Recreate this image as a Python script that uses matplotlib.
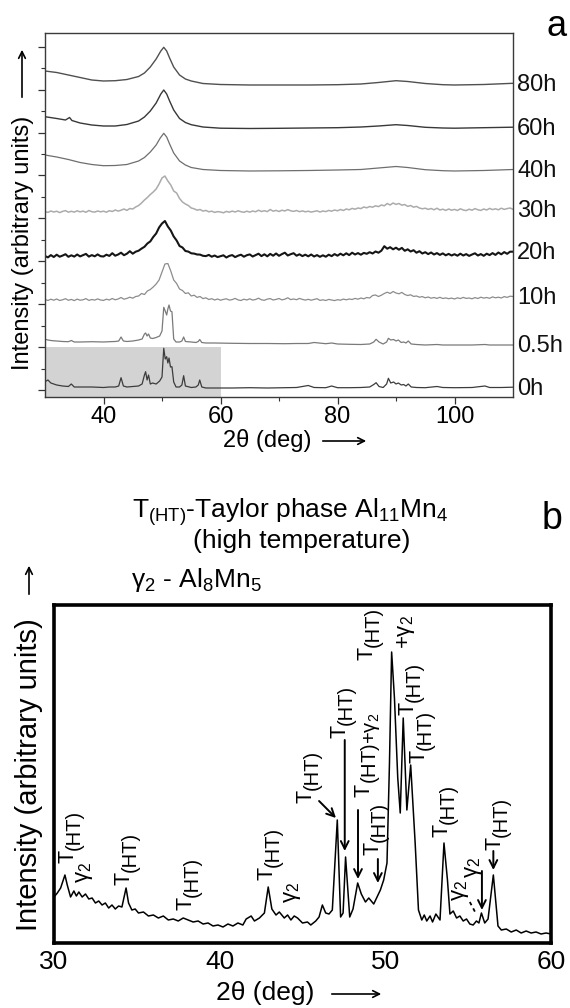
import numpy as np
import matplotlib
matplotlib.use("Agg")
import matplotlib.pyplot as plt
from matplotlib.patches import FancyArrowPatch

plt.rcParams['font.family'] = ['Liberation Sans', 'DejaVu Sans']
plt.rcParams['mathtext.fontset'] = 'custom'
plt.rcParams['mathtext.rm'] = 'Liberation Sans'
plt.rcParams['mathtext.it'] = 'Liberation Sans:italic'
plt.rcParams['mathtext.bf'] = 'Liberation Sans:bold'

# ---------------- panel a data (2theta in deg, intensity in arbitrary offset units) ----------------
x_sharp = [30, 30.5, 31, 31.5, 32, 33, 34, 34.5, 35, 36, 38, 40, 41, 42, 42.6, 43, 43.4, 44, 45, 46,
           46.6, 47.0, 47.2, 47.45, 47.7, 48.0, 48.4, 49.0, 49.6, 50.0, 50.3, 50.55, 50.8, 51.0, 51.2,
           51.45, 51.7, 52.0, 52.4, 53.0, 53.4, 53.7, 54.0, 55, 55.8, 56.2, 56.45, 56.8, 57.5, 59,
           62, 65, 68, 71, 73, 75, 76, 78, 79, 80, 82, 84, 85.5, 86.2, 86.6, 87.1, 87.8, 88.4, 88.7,
           89.1, 89.6, 90.0, 90.4, 90.9, 91.3, 91.7, 92.1, 92.6, 93.5, 95, 97, 98, 100, 103, 105.2,
           106, 108, 110]
y_0h = [15.3, 17, 14, 13, 12, 11, 10.5, 13, 10, 10, 10, 9.5, 10, 10, 11, 19.3, 11, 10, 10.5, 11,
        13, 22, 25.3, 17, 22, 13, 14, 13, 16, 20, 48.7, 38, 40.3, 34, 39,
        30, 30.3, 15, 10, 10, 12, 21.3, 11, 9.5, 10, 12, 17, 10, 9, 9,
        9, 9.3, 9, 9.3, 9.5, 11.5, 9.5, 9.3, 11, 9.3, 9.3, 9.5, 10, 12.5, 14.3, 10.5, 9.5, 13, 18.7,
        14, 15, 13, 14, 12, 12.5, 11, 13, 10, 9.5, 9.3, 10.5, 9.5, 9.3, 9.5, 11,
        9.5, 9.5, 9.8]
y_05h = [57.7, 57, 56.5, 56.2, 56, 55.5, 55.3, 56.5, 55, 55, 55.3, 55, 55.3, 55.5, 56, 60, 56, 55.5, 56, 57,
         58, 63, 64, 61, 63, 59, 58.5, 59.5, 61, 66, 89.7, 86, 82, 88, 92,
         86, 85.3, 58, 55, 55, 56, 60, 55.5, 55, 54.5, 55.5, 57.5, 54.5, 54, 54,
         53.7, 53.5, 53.5, 53.3, 53.5, 53.5, 54.5, 53.3, 54, 53, 52.7, 52.5, 53, 55, 57.7, 55, 53, 55, 58.7,
         57, 57.5, 56, 57, 54.5, 55, 54, 56, 53, 52.5, 52, 52.5, 52, 52, 52, 52.5,
         52, 52, 52]

x_noisy = np.arange(30, 110.01, 0.5)
y_10h = [97.5, 96.5, 97.8, 96.8, 98.0, 96.5, 97.2, 98.3, 96.7, 97.6,
         96.4, 97.9, 96.8, 97.2, 98.4, 96.6, 97.5, 96.9, 98.1, 97.0,
         96.6, 97.8, 97.0, 98.5, 97.2, 98.0, 99.5, 97.8, 98.6, 99.8,
         98.8, 100.5, 101.0, 103.5, 102.5, 106.0, 107.5, 110.0, 113.0, 117.0,
         125.0, 133.0, 133.5, 126.0, 117.0, 113.5, 108.0, 106.5, 103.5, 104.2,
         101.0, 101.8, 99.6, 100.5, 98.4, 99.2, 97.5, 98.3, 97.0, 98.0,
         96.8, 97.6, 98.2, 96.9, 97.4, 98.6, 97.1, 96.5, 97.8, 97.0,
         98.2, 96.9, 97.5, 98.8, 97.2, 96.7, 97.9, 98.4, 97.0, 97.6,
         98.5, 97.1, 97.8, 99.2, 97.4, 98.0, 97.3, 98.6, 97.6, 96.9,
         97.7, 96.8, 97.5, 98.3, 96.6, 97.2, 96.5, 97.6, 97.0, 96.4,
         97.3, 96.8, 97.9, 97.2, 98.0, 97.5, 98.6, 97.8, 99.0, 98.2,
         99.5, 99.0, 101.5, 102.0, 100.5, 101.8, 103.5, 104.8, 103.5, 105.5,
         104.0, 103.2, 104.6, 102.5, 101.5, 102.2, 100.6, 101.0, 99.8, 100.4,
         99.2, 100.0, 98.8, 99.5, 98.6, 99.7, 98.5, 99.1, 98.3, 98.9,
         98.0, 99.2, 98.4, 99.6, 98.6, 99.0, 98.2, 99.4, 98.5, 99.8,
         98.9, 99.5, 98.7, 100.1, 99.2, 99.8, 99.0, 100.4, 99.6, 100.8,
         100.5]
y_20h = [141.0, 139.6, 141.9, 140.0, 142.3, 140.3, 141.4, 142.8, 140.2, 141.7,
         140.4, 142.5, 140.6, 141.8, 143.1, 140.4, 141.9, 140.7, 142.6, 140.8,
         140.5, 142.3, 141.1, 143.8, 141.3, 142.5, 144.3, 141.8, 143.3, 145.8,
         143.3, 145.3, 146.3, 148.4, 150.2, 153.5, 155.6, 160.0, 163.5, 169.5,
         173.5, 176.0, 170.5, 166.5, 160.5, 156.5, 151.0, 149.5, 146.0, 145.4,
         143.7, 143.4, 142.5, 142.4, 141.2, 140.9, 142.1, 140.3, 141.5, 139.9,
         140.8, 141.7, 139.5, 141.1, 141.9, 139.9, 141.3, 142.3, 140.3, 141.8,
         142.6, 140.5, 141.9, 143.3, 140.9, 142.7, 140.7, 143.1, 141.3, 143.5,
         141.2, 142.9, 144.3, 141.5, 142.8, 143.8, 141.3, 142.7, 140.9, 142.3,
         140.7, 142.5, 140.5, 141.9, 140.2, 141.7, 140.3, 142.3, 140.9, 142.9,
         141.3, 143.3, 141.7, 143.7, 141.9, 144.3, 142.5, 143.9, 142.3, 144.1,
         143.2, 144.8, 143.5, 145.5, 144.3, 146.3, 150.8, 148.3, 149.8, 147.7,
         149.3, 147.3, 149.1, 146.2, 147.7, 145.5, 146.8, 144.3, 145.8, 143.5,
         144.8, 142.9, 144.5, 142.5, 143.9, 142.1, 143.6, 141.7, 143.1, 141.5,
         142.8, 141.3, 143.3, 141.5, 142.9, 141.1, 142.5, 143.7, 141.5, 142.9,
         141.2, 143.3, 141.9, 143.9, 142.1, 144.5, 142.7, 144.9, 143.2, 145.3,
         145.3]
y_30h = [185.5, 184.6, 186.0, 185.0, 185.8, 184.4, 185.6, 186.4, 184.8, 185.7,
         184.9, 186.2, 185.1, 185.9, 184.7, 186.5, 185.3, 184.9, 186.0, 185.2,
         185.8, 184.8, 186.3, 185.5, 187.0, 185.9, 186.8, 188.0, 186.6, 188.5,
         188.0, 190.0, 191.5, 194.0, 197.0, 199.5, 202.5, 205.0, 208.0, 213.0,
         219.0, 221.0, 216.0, 212.0, 206.0, 204.0, 198.5, 195.0, 193.0, 191.5,
         189.0, 188.2, 186.8, 187.5, 185.9, 186.6, 185.2, 185.8, 184.6, 185.4,
         185.0, 184.2, 185.6, 184.8, 185.9, 185.0, 186.2, 185.3, 184.7, 185.8,
         184.9, 186.0, 185.2, 186.8, 185.5, 186.3, 185.4, 187.5, 185.8, 186.6,
         185.5, 186.8, 186.0, 187.4, 186.2, 185.6, 186.5, 185.3, 186.1, 185.2,
         185.8, 184.9, 185.6, 186.2, 185.0, 186.0, 185.4, 186.6, 185.8, 187.0,
         186.2, 187.5, 186.5, 188.0, 187.2, 188.6, 187.8, 189.0, 188.4, 190.0,
         189.2, 190.5, 189.8, 191.2, 190.4, 192.0, 191.2, 193.5, 192.0, 194.0,
         192.6, 193.5, 191.8, 192.5, 190.6, 191.5, 189.8, 190.6, 189.0, 188.2,
         188.8, 187.6, 188.5, 187.2, 188.8, 187.0, 187.8, 186.6, 188.0, 186.8,
         187.6, 186.5, 188.2, 187.0, 186.4, 187.8, 186.8, 188.4, 187.2, 186.6,
         188.0, 187.0, 188.6, 187.4, 188.2, 187.2, 188.8, 187.6, 188.4, 189.0,
         187.7]

x_40h = [30, 32, 34, 36, 38, 40, 42, 44, 46, 47, 48, 49, 49.7, 50.3, 50.8, 51.3, 52, 53, 54, 55,
         57, 60, 65, 70, 75, 80, 84, 87, 90, 92, 95, 98, 100, 105, 110]
y_40h = [242, 240, 237.5, 234.5, 232.5, 231.3, 231.5, 232.5, 236, 239.5, 245, 252, 259, 263.7, 260,
         253, 244, 236, 232, 229.5, 227.5, 226.5, 226, 226.2, 226.5, 227, 227.5, 229, 230.5, 229.5,
         227.3, 226.3, 226, 226.5, 227.5]
x_60h = [30, 32, 33.5, 34.2, 34.6, 36, 38, 40, 42, 44, 46, 47, 48, 49, 49.8, 50.3, 50.8, 51.3, 52,
         53, 54, 55, 57, 60, 65, 70, 75, 80, 84, 87, 90, 92, 95, 98, 100, 105, 110]
y_60h = [280.3, 278.5, 277, 279.5, 276.5, 274, 272, 271, 271, 272.5, 276, 280, 286, 294, 303, 307,
         303, 296, 287, 278.5, 274.5, 272.3, 270, 268.8, 268.5, 268.7, 269, 269.3, 270, 271, 272.3,
         271.5, 269.7, 269, 268.8, 269.3, 269.8]
x_80h = [30, 32, 34, 36, 38, 40, 42, 44, 46, 47, 48, 49, 49.8, 50.3, 50.8, 51.3, 52, 53, 54, 55,
         57, 60, 65, 70, 75, 80, 84, 87, 90, 92, 95, 98, 100, 105, 110]
y_80h = [326, 324.5, 322, 319.5, 317, 316, 316.3, 317.5, 320.5, 324, 330, 338, 346, 349.7, 346,
         339, 330, 322, 318, 316, 313.5, 312.5, 312, 312, 312, 312.3, 313, 314.5, 316.3, 315.5,
         313.5, 312.3, 312, 312.5, 313.7]

labels_a = ['80h', '60h', '40h', '30h', '20h', '10h', '0.5h', '0h']
xticks_a = [40, 60, 80, 100]
zoom_range = (30, 60)

# ---------------- panel b data ----------------
scan_b = [(30.0, 46), (30.2, 50), (30.4, 55), (30.66, 68), (30.8, 58), (31.0, 46), (31.2, 52),
          (31.35, 47), (31.5, 51), (31.7, 46), (31.9, 49), (32.1, 44), (32.3, 45), (32.5, 40),
          (32.7, 42), (32.9, 38), (33.1, 40), (33.3, 35), (33.5, 38), (33.7, 34), (33.9, 37),
          (34.1, 36), (34.35, 55), (34.5, 40), (34.7, 33), (34.9, 34), (35.1, 30), (35.4, 31),
          (35.7, 27), (36.0, 28), (36.3, 25), (36.6, 27), (36.9, 23), (37.2, 24), (37.5, 22),
          (37.8, 25), (38.1, 23), (38.4, 21), (38.7, 22), (39.0, 19), (39.3, 20), (39.6, 17),
          (39.9, 18), (40.2, 16), (40.5, 19), (40.8, 17), (41.1, 20), (41.4, 18), (41.6, 24),
          (41.9, 27), (42.1, 22), (42.4, 25), (42.7, 30), (42.93, 56), (43.15, 34), (43.4, 28),
          (43.6, 31), (43.9, 25), (44.1, 28), (44.3, 23), (44.5, 27), (44.7, 25), (45.0, 20),
          (45.3, 21), (45.5, 18), (45.8, 22), (46.0, 26), (46.2, 38), (46.4, 30), (46.6, 29),
          (46.8, 33), (47.1, 123), (47.3, 26), (47.45, 30), (47.6, 86), (47.85, 26), (48.05, 34),
          (48.33, 60), (48.55, 49), (48.8, 41), (49.0, 45), (49.3, 39), (49.5, 46), (49.7, 53),
          (49.9, 63), (50.1, 80), (50.25, 180), (50.38, 291), (50.55, 245), (50.75, 165),
          (50.9, 130), (51.08, 225), (51.3, 133), (51.53, 178), (51.8, 100), (52.0, 33),
          (52.2, 23), (52.35, 28), (52.5, 22), (52.7, 27), (52.85, 21), (53.05, 29), (53.3, 23),
          (53.54, 100), (53.75, 63), (53.9, 29), (54.1, 32), (54.3, 25), (54.5, 27), (54.7, 22),
          (54.9, 24), (55.1, 19), (55.3, 18), (55.5, 22), (55.65, 20), (55.8, 30), (56.0, 20),
          (56.2, 24), (56.52, 68), (56.8, 17), (57.0, 13), (57.3, 14), (57.6, 11), (57.9, 13),
          (58.2, 10), (58.5, 12), (58.8, 10), (59.1, 11), (59.4, 9), (59.7, 10), (60.0, 9)]
x_b = [p[0] for p in scan_b]
y_b = [p[1] for p in scan_b]
xticks_b = [30, 40, 50, 60]

# T(HT) labels: (x centre, y start, trailing text)
t_labels = [(31.05, 80, ''), (34.45, 58, ''), (38.15, 33, ''), (43.05, 63, ''), (45.45, 140, ''),
            (47.5, 205, ''), (48.95, 146, '+γ$_2$'), (49.45, 88, ''), (49.1, 283, ''),
            (51.6, 228, ''), (52.25, 180, ''), (53.65, 106, ''), (56.85, 93, '')]
g_labels = [(31.85, 60, 'γ$_2$'), (44.4, 40, 'γ$_2$'), (54.55, 42, 'γ$_2$'), (55.3, 65, 'γ$_2$'),
            (51.25, 294, '+γ$_2$')]
peak_arrows = [((46.0, 142), (47.02, 125)), ((47.55, 203), (47.55, 92)),
               ((48.35, 133), (48.35, 64)), ((49.55, 84), (49.55, 60)),
               ((55.83, 72), (55.83, 33)), ((56.52, 92), (56.52, 73))]

# ---------------- figure ----------------
W, H = 570, 1008
fig = plt.figure(figsize=(W / 100, H / 100), dpi=100)

def fx(px):
    return px / W

def fy(py):
    return 1 - py / H

# panel a
axa = fig.add_axes([fx(45), fy(397), fx(513) - fx(45), fy(33) - fy(397)])
axa.axvspan(zoom_range[0], zoom_range[1], ymin=0, ymax=49.7 / 364, color='#d3d3d3', lw=0, zorder=0)
traces = [
    (x_80h, y_80h, '#505050', 1.0),
    (x_60h, y_60h, '#383838', 1.0),
    (x_40h, y_40h, '#6e6e6e', 0.9),
    (x_noisy, y_30h, '#ababab', 1.1),
    (x_noisy, y_20h, '#151515', 1.5),
    (x_noisy, y_10h, '#8c8c8c', 0.9),
    (x_sharp, y_05h, '#7a7a7a', 0.9),
    (x_sharp, y_0h, '#3c3c3c', 0.9),
]
for (xx, yy, c, lw), lab in zip(traces, labels_a):
    axa.plot(xx, yy, color=c, lw=lw, zorder=2)
    axa.annotate(lab, xy=(1.0, yy[-1] - 1.5), xycoords=('axes fraction', 'data'),
                 xytext=(3, 0), textcoords='offset points', ha='left', va='center',
                 fontsize=17, color='#111111', annotation_clip=False)
axa.set_xlim(30, 110)
axa.set_ylim(0, 364)
axa.set_xticks(xticks_a)
axa.set_xticks([50, 70, 90], minor=True)
axa.set_yticks(np.arange(7, 364, 42.9))
axa.set_yticks(np.arange(7 + 21.45, 364, 42.9), minor=True)
axa.set_yticklabels([])
axa.tick_params(axis='both', which='major', direction='out', length=5, width=0.9, color='#333333',
                labelsize=17, pad=1.5, top=False, right=False)
axa.tick_params(axis='both', which='minor', direction='out', length=3, width=0.8, color='#333333',
                top=False, right=False)
for sp in axa.spines.values():
    sp.set_linewidth(1.0)
    sp.set_color('#3a3a3a')

fig.text(fx(23), fy(243), 'Intensity (arbitrary units)', rotation=90, ha='center', va='center',
         fontsize=17)
fig.text(fx(267), fy(440), '2θ (deg)', ha='center', va='center', fontsize=17)
fig.text(fx(557), fy(27), 'a', ha='center', va='center', fontsize=26)

# panel b
axb = fig.add_axes([fx(54), fy(943), fx(551) - fx(54), fy(605) - fy(943)])
axb.plot(x_b, y_b, color='black', lw=1.1)
axb.set_xlim(30, 60)
axb.set_ylim(0, 338)
axb.set_xticks(xticks_b)
axb.set_yticks([])
axb.tick_params(axis='x', length=0, labelsize=19, pad=5)
for sp in axb.spines.values():
    sp.set_linewidth(2.6)
    sp.set_color('black')

def vtext(x, y, s, dx=0, dy=0, size=15):
    axb.annotate(s, xy=(x, y), xytext=(dx, dy), textcoords='offset points', rotation=90,
                 ha='center', va='bottom', fontsize=size, annotation_clip=False)

for x, y, tail in t_labels:
    vtext(x, y, 'T', dx=-2.5, dy=0, size=15.5)
    vtext(x, y, '(HT)' + tail, dx=2.0, dy=9.2, size=14.5)
for x, y, s in g_labels:
    vtext(x, y, s, size=16)
for (x0, y0), (x1, y1) in peak_arrows:
    axb.annotate('', xy=(x1, y1), xytext=(x0, y0),
                 arrowprops=dict(arrowstyle='->', lw=1.4, color='black', mutation_scale=14,
                                 shrinkA=0, shrinkB=0))
axb.plot([55.1, 55.45], [41, 30], color='black', lw=1.3, ls=(0, (2, 2)))

fig.text(fx(290), fy(512), r'T$_{\mathrm{(HT)}}$-Taylor phase Al$_{11}$Mn$_{4}$', ha='center',
         va='center', fontsize=19)
fig.text(fx(302), fy(541), '(high temperature)', ha='center', va='center', fontsize=19)
fig.text(fx(196), fy(580), r'γ$_{\mathrm{2}}$ - Al$_8$Mn$_5$', ha='center', va='center', fontsize=19)
fig.text(fx(552), fy(519), 'b', ha='center', va='center', fontsize=27)
fig.text(fx(29), fy(775), 'Intensity (arbitrary units)', rotation=90, ha='center', va='center',
         fontsize=21)
fig.text(fx(265), fy(993), '2θ (deg)', ha='center', va='center', fontsize=19)

# long axis arrows
for (x0, y0, x1, y1) in [(22, 100, 22, 47), (320, 441, 369, 441), (29, 597, 29, 563),
                         (329, 994, 384, 994)]:
    fig.add_artist(FancyArrowPatch((fx(x0), fy(y0)), (fx(x1), fy(y1)), transform=fig.transFigure,
                                   arrowstyle='->', mutation_scale=12, lw=1.2, color='black'))

fig.savefig('out.png', dpi=100, facecolor='white')
